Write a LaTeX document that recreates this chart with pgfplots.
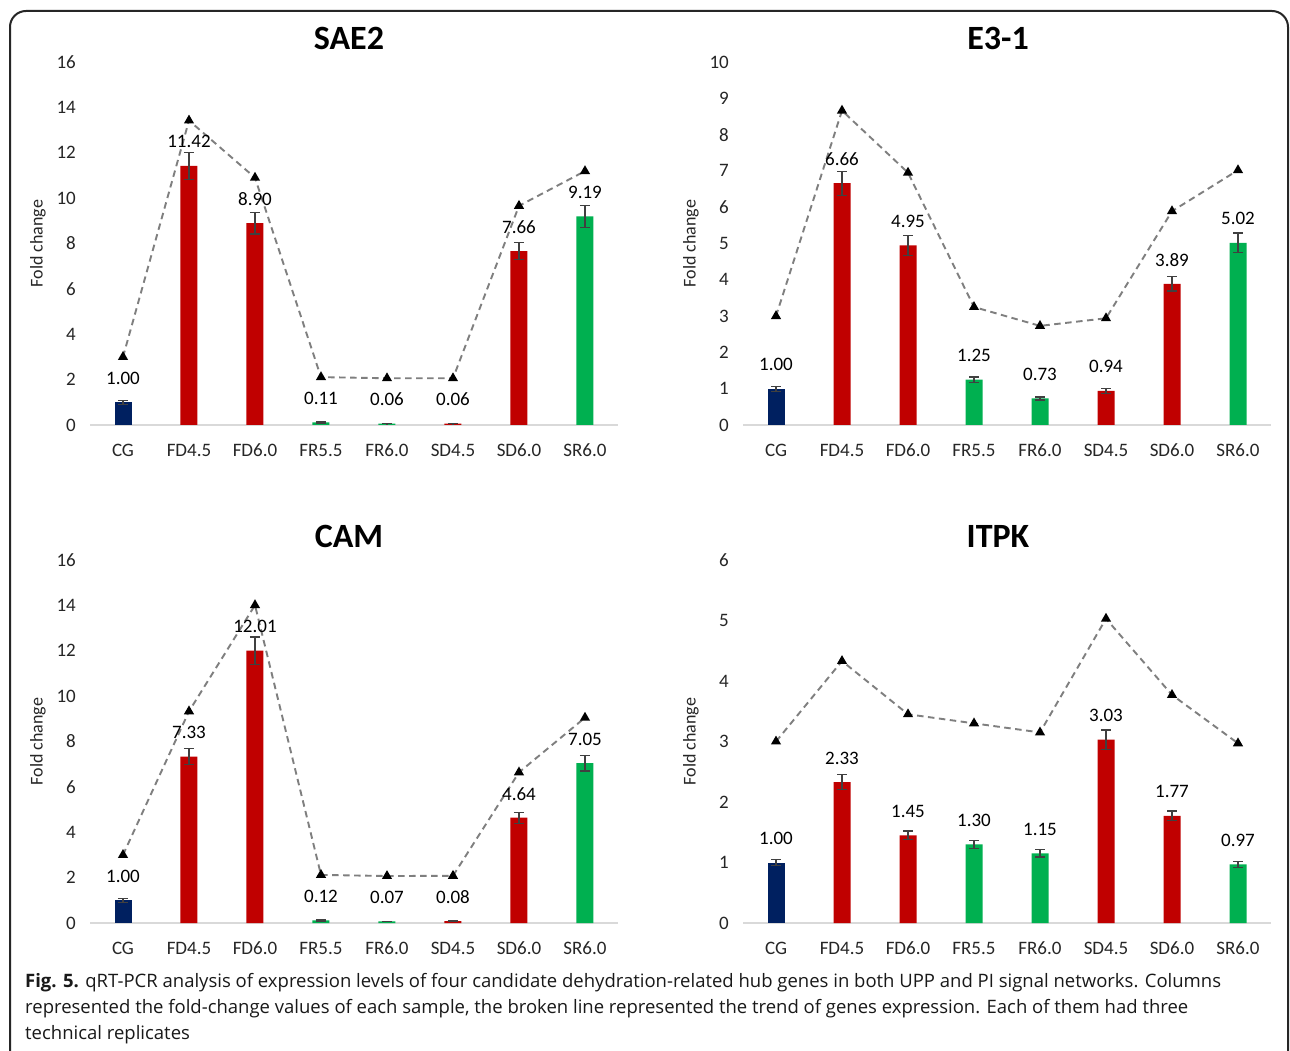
\documentclass[border=0pt]{standalone}
\usepackage{pgfplots}
\pgfplotsset{compat=1.18}
\usepackage{fontspec}
\setmainfont{Carlito}
\newfontfamily\capfont{Open Sans}
\definecolor{navy}{HTML}{002060}
\definecolor{dred}{HTML}{C00000}
\definecolor{dgreen}{HTML}{00B050}
\definecolor{axisgrey}{HTML}{D9D9D9}
\definecolor{ticktext}{HTML}{262626}
\definecolor{errgrey}{HTML}{404040}
\definecolor{trendgrey}{HTML}{7F7F7F}
\pgfplotsset{
  panel/.style={
    scale only axis, width=528pt, height=363pt,
    xmin=-0.5, xmax=7.5, ymin=0, enlargelimits=false,
    xtick={0,...,7},
    xticklabels={CG,FD4.5,FD6.0,FR5.5,FR6.0,SD4.5,SD6.0,SR6.0},
    axis x line=bottom, axis y line=left,
    x axis line style={-, draw=axisgrey, line width=1.3pt},
    y axis line style={draw=none},
    major tick length=0pt,
    tick label style={font=\fontsize{19}{19}\selectfont, text=ticktext},
    xticklabel style={anchor=center, inner sep=0pt, yshift=-25pt},
    yticklabel style={anchor=east, inner sep=0pt, xshift=-14pt},
    /pgf/number format/assume math mode=true,
    ylabel={Fold change},
    ylabel style={at={(axis description cs:-0.0985,0.5)}, anchor=center, font=\fontsize{18}{18}\selectfont, text=ticktext},
    title style={anchor=center, yshift=18pt, font=\fontsize{34}{34}\selectfont\bfseries, text=black},
    clip=false,
  },
  bars/.style={
    ybar, bar width=17pt, bar shift=0pt, draw=none, fill=#1,
    nodes near coords={\pgfmathprintnumber[fixed,fixed zerofill,precision=2,assume math mode=true]{\pgfplotspointmeta}},
    nodes near coords style={anchor=center, yshift=24pt, inner sep=0pt, font=\fontsize{19}{19}\selectfont, text=black},
    point meta=y,
    error bars/.cd, y dir=both, y explicit,
    error bar style={line width=1.2pt, draw=errgrey, solid},
    error mark options={rotate=90, mark size=5pt, line width=1.2pt, draw=errgrey},
  },
  trend/.style={
    sharp plot, draw=trendgrey, line width=1.9pt, dash pattern=on 6.5pt off 4.5pt,
    mark=triangle*, mark size=4pt, mark options={solid, fill=black, draw=black},
  },
}
\begin{document}
\begin{tikzpicture}
\useasboundingbox (0,0) rectangle (1290pt,1050pt);
\clip (0,0) rectangle (1290pt,1050pt);
\fill[white] (0,0) rectangle (1290pt,1050pt);
\draw[line width=2pt, draw=black!85, rounded corners=16pt] (10pt,-40pt) rectangle (1288pt,1039pt);

% SAE2
\begin{axis}[panel, at={(90pt,625pt)}, anchor=south west, ymax=16, ytick={0,2,...,16},
  title={SAE2}, title style={at={(axis description cs:0.4905,1)}}]
\addplot[bars=navy] coordinates {(0,1.00) +- (0,0.08)};
\addplot[bars=dred] coordinates {(1,11.42) +- (0,0.60) (2,8.90) +- (0,0.48) (5,0.06) +- (0,0.01) (6,7.66) +- (0,0.38)};
\addplot[bars=dgreen] coordinates {(3,0.11) +- (0,0.02) (4,0.06) +- (0,0.01) (7,9.19) +- (0,0.47)};
\addplot[trend] coordinates {(0,3.00) (1,13.42) (2,10.90) (3,2.11) (4,2.06) (5,2.06) (6,9.66) (7,11.19)};
\end{axis}

% E3-1
\begin{axis}[panel, at={(743pt,625pt)}, anchor=south west, ymax=10, ytick={0,1,...,10},
  title={E3-1}, title style={at={(axis description cs:0.483,1)}}]
\addplot[bars=navy] coordinates {(0,1.00) +- (0,0.07)};
\addplot[bars=dred] coordinates {(1,6.66) +- (0,0.33) (2,4.95) +- (0,0.27) (5,0.94) +- (0,0.07) (6,3.89) +- (0,0.20)};
\addplot[bars=dgreen] coordinates {(3,1.25) +- (0,0.07) (4,0.73) +- (0,0.04) (7,5.02) +- (0,0.27)};
\addplot[trend] coordinates {(0,3.00) (1,8.66) (2,6.95) (3,3.25) (4,2.73) (5,2.94) (6,5.89) (7,7.02)};
\end{axis}

% CAM
\begin{axis}[panel, at={(90pt,127pt)}, anchor=south west, ymax=16, ytick={0,2,...,16},
  title={CAM}, title style={at={(axis description cs:0.4905,1)}}]
\addplot[bars=navy] coordinates {(0,1.00) +- (0,0.08)};
\addplot[bars=dred] coordinates {(1,7.33) +- (0,0.35) (2,12.01) +- (0,0.60) (5,0.08) +- (0,0.01) (6,4.64) +- (0,0.24)};
\addplot[bars=dgreen] coordinates {(3,0.12) +- (0,0.03) (4,0.07) +- (0,0.01) (7,7.05) +- (0,0.35)};
\addplot[trend] coordinates {(0,3.00) (1,9.33) (2,14.01) (3,2.12) (4,2.07) (5,2.08) (6,6.64) (7,9.05)};
\end{axis}

% ITPK
\begin{axis}[panel, at={(743pt,127pt)}, anchor=south west, ymax=6, ytick={0,1,...,6},
  title={ITPK}, title style={at={(axis description cs:0.483,1)}}]
\addplot[bars=navy] coordinates {(0,1.00) +- (0,0.05)};
\addplot[bars=dred] coordinates {(1,2.33) +- (0,0.12) (2,1.45) +- (0,0.07) (5,3.03) +- (0,0.16) (6,1.77) +- (0,0.08)};
\addplot[bars=dgreen] coordinates {(3,1.30) +- (0,0.07) (4,1.15) +- (0,0.06) (7,0.97) +- (0,0.05)};
\addplot[trend] coordinates {(0,3.00) (1,4.33) (2,3.45) (3,3.30) (4,3.15) (5,5.03) (6,3.77) (7,2.97)};
\end{axis}

% caption
\begin{scope}[every node/.style={anchor=base west, inner sep=0pt, font=\capfont\fontsize{18.5}{19}\selectfont, text=black!90}]
\node at (25pt,63pt) {\textbf{Fig. 5.} qRT-PCR analysis of expression levels of four candidate dehydration-related hub genes in both UPP and PI signal networks. Columns};
\node at (25pt,37pt) {represented the fold-change values of each sample, the broken line represented the trend of genes expression. Each of them had three};
\node at (25pt,11pt) {technical replicates};
\end{scope}
\end{tikzpicture}
\end{document}
